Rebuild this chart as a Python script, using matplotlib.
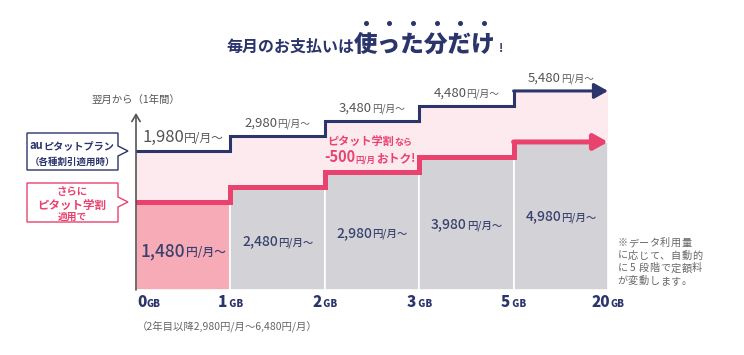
import matplotlib.pyplot as plt
from matplotlib.patches import Polygon
from matplotlib.lines import Line2D
from matplotlib.transforms import IdentityTransform
import numpy as np

plt.rcParams['font.family'] = ['Noto Sans CJK JP', 'DejaVu Sans']

# data
tier_labels = ["0", "1", "2", "3", "5", "20"]
plan_prices = ["1,980", "2,980", "3,480", "4,480", "5,480"]
student_prices = ["1,480", "2,480", "2,980", "3,980", "4,980"]
unit = "円/月〜"

NAVY = "#2b346b"
PINK = "#e9426f"
LIGHT_PINK = "#fdeaef"
BAR_PINK = "#f6abb6"
GRAY_BAR = "#d3d3d7"
TXT_GRAY = "#555555"
TXT_NAVY = "#39426f"

W, H = 744, 355
fig = plt.figure(figsize=(W / 100, H / 100), dpi=100)
ax = fig.add_axes([136 / W, (H - 290) / H, 472 / W, 230 / H])
ax.set_xlim(0, 5)
ax.set_ylim(0, 230 / 15)
ax.axis("off")

n = len(plan_prices)
idx = np.arange(n)
# schematic levels: one step per tier
student_lvl = 5.87 + idx
plan_lvl = 9.27 + idx
edges = np.arange(n + 1)

# light pink band under the plan line
ax.fill_between(edges, np.append(plan_lvl, plan_lvl[-1]), step="post",
                color=LIGHT_PINK, lw=0, zorder=1)
# bars under the student line
colors = [BAR_PINK] + [GRAY_BAR] * (n - 1)
ax.bar(idx + 0.5, student_lvl, width=1, color=colors, edgecolor="white",
       linewidth=1.2, zorder=2)

# step lines with arrows
for lvl, col, lw in [(student_lvl, PINK, 3.6), (plan_lvl, NAVY, 2.2)]:
    ax.step(edges[:-1], lvl, where="post", color=col, lw=lw, zorder=4,
            solid_joinstyle="miter")
    ax.annotate("", xy=(5, lvl[-1]), xytext=(4, lvl[-1]),
                arrowprops=dict(arrowstyle="-|>,head_length=0.75,head_width=0.42",
                                color=col, lw=lw, shrinkA=0, shrinkB=0,
                                mutation_scale=11), zorder=4)

# y axis arrow
ax.annotate("", xy=(0, 11.8), xytext=(0, 0),
            arrowprops=dict(arrowstyle="->,head_length=0.5,head_width=0.3",
                            color=TXT_GRAY, lw=1.2, shrinkA=0, shrinkB=0,
                            mutation_scale=10), zorder=5)

fig.canvas.draw()
renderer = fig.canvas.get_renderer()


def mixed(x, y, parts, color, ha="center"):
    """parts: list of (text, size, weight); x, y in display pixels, baseline."""
    texts, widths = [], []
    for s, size, wt in parts:
        t = fig.text(0, 0, s, fontsize=size, fontweight=wt, color=color,
                     ha="left", va="baseline", transform=IdentityTransform())
        texts.append(t)
        widths.append(t.get_window_extent(renderer).width)
    total = sum(widths)
    start = x - total / 2 if ha == "center" else x
    for t, w in zip(texts, widths):
        t.set_position((start, y))
        start += w
    return texts, widths


def px(x, y):
    return x, H - y


def data(x, y):
    return ax.transData.transform((x, y))


# price labels above the plan line
for i, p in enumerate(plan_prices):
    big, small = (12, 8.5) if i == 0 else (9.5, 7)
    x, y = data(i + 0.5, plan_lvl[i] + 0.6)
    mixed(x, y, [(p, big, "normal"), (unit, small, "normal")], TXT_GRAY)

# price labels inside bars
for i, p in enumerate(student_prices):
    big, small = (12.5, 8.5) if i == 0 else (10, 7.5)
    yl = 2.27 if i == 0 else 2.45 + 0.55 * i
    x, y = data(i + 0.5, yl)
    mixed(x, y, [(p, big, "medium"), (unit, small, "medium")], TXT_NAVY)

# GB tick labels
for i, lab in enumerate(tier_labels):
    x, y = data(edges[i], 0)
    gb = "GB" if i in (0, len(tier_labels) - 1) else " GB"
    mixed(x + (0 if i else 1), y - 17, [(lab, 11, "heavy"), (gb, 7, "heavy")],
          NAVY, ha="left" if i == 0 else "center")

# callout
x, y = data(2.5, 0)
mixed(x - 2, H - 145, [("ピタット学割", 8, "bold"), ("なら", 6.5, "bold")], PINK)
mixed(x - 2, H - 162, [("-500", 10.5, "bold"), ("円/月", 6, "bold"),
                       ("おトク", 8.5, "bold"), ("!", 8.5, "bold")], PINK)

# y axis label
x0, _ = data(0, 0)
fig.text(x0, H - 103, "翌月から（1年間）", fontsize=7.5, color=TXT_GRAY,
         ha="center", va="baseline", transform=IdentityTransform())

# title
texts, widths = mixed(*px(226, 52), [("毎月のお支払いは", 11.5, "bold"),
                                     ("使った分だけ", 17, "black"),
                                     (" !", 9, "bold")], NAVY, ha="left")
sx = texts[1].get_position()[0]
cw = widths[1] / 6
dot_x = [sx + (k + 0.5) * cw for k in range(6)]
fig.add_artist(Line2D(dot_x, [H - 23] * 6, ls="", marker="o", ms=2.6,
                      color=NAVY, transform=IdentityTransform()))

# left legend boxes
def box(top, bottom, tip_y, color):
    pts = [(27, top), (118, top), (118, tip_y - 5), (128, tip_y),
           (118, tip_y + 5), (118, bottom), (27, bottom)]
    fig.add_artist(Polygon([px(a, b) for a, b in pts], closed=True,
                           facecolor="white", edgecolor=color, lw=1.0,
                           transform=IdentityTransform()))


box(133, 170, 151, NAVY)
box(183, 222, 202, PINK)
mixed(*px(72, 149), [("au", 8, "bold"), ("ピタットプラン", 7.3, "bold")], NAVY)
mixed(*px(72, 165), [("（各種割引適用時）", 6.8, "bold")], NAVY)
mixed(*px(72, 195), [("さらに", 7.5, "bold")], PINK)
mixed(*px(72, 209), [("ピタット学割", 8.3, "bold")], PINK)
mixed(*px(72, 220), [("適用で", 7, "bold")], PINK)

# note on the right, spread to a fixed width
note = ["※データ利用量", "に応じて、自動的", "に5段階で定額料", "が変動します。"]
for j, line in enumerate(note):
    yb = H - (246 + 12.7 * j)
    step = 80 / 7.5
    for k, ch in enumerate(line):
        fig.text(617 + (k + 0.5) * step, yb, ch, fontsize=7.3, color="#666666",
                 ha="center", va="baseline", transform=IdentityTransform())

# bottom note
fig.text(137, H - 329, "（2年目以降2,980円/月〜6,480円/月）", fontsize=7.5,
         color="#666666", ha="left", va="baseline",
         transform=IdentityTransform())

fig.savefig("out.png", dpi=100)
